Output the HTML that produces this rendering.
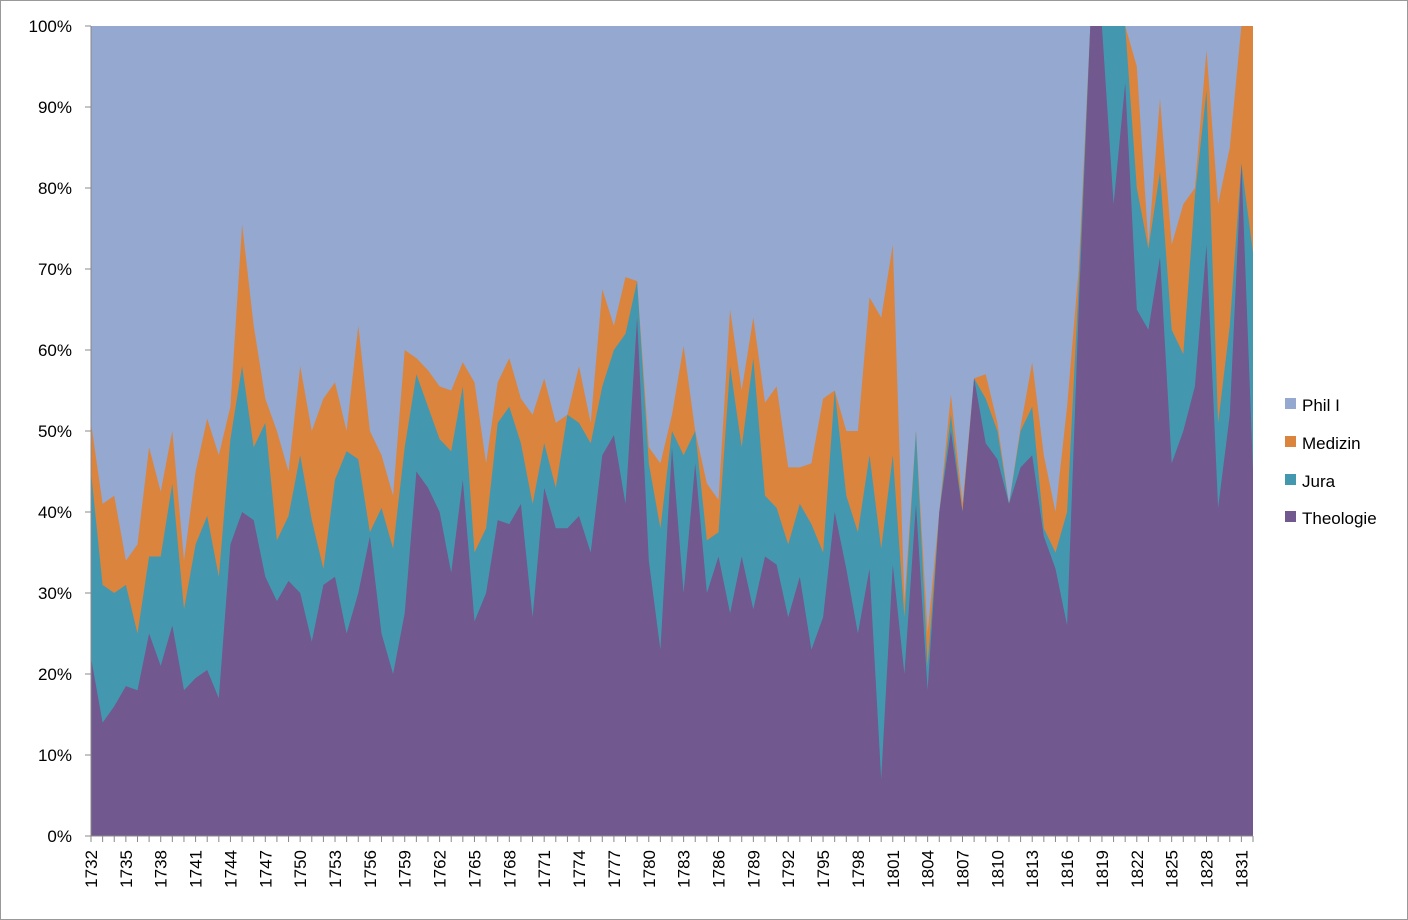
<!DOCTYPE html>
<html><head><meta charset="utf-8"><style>
html,body{margin:0;padding:0;background:#fff;}
svg{display:block;font-family:"Liberation Sans",sans-serif;}
</style></head><body>
<svg id="s" width="1408" height="920" viewBox="0 0 1408 920" xmlns="http://www.w3.org/2000/svg">
<rect x="0.5" y="0.5" width="1407" height="919" fill="#fff" stroke="#999"/>
<g id="areas"></g>
<g id="axes"></g>
<g font-size="17" fill="#000">
<rect x="1285" y="398" width="11" height="11" fill="#94a8d0"/><text x="1302" y="411">Phil I</text>
<rect x="1285" y="436" width="11" height="11" fill="#db843d"/><text x="1302" y="449">Medizin</text>
<rect x="1285" y="474" width="11" height="11" fill="#4398af"/><text x="1302" y="487">Jura</text>
<rect x="1285" y="511" width="11" height="11" fill="#71588f"/><text x="1302" y="524">Theologie</text>
</g>
</svg>
<script>
var T=[22,14,16,18.5,18,25,21,26,18,19.5,20.5,17,36,40,39,32,29,31.5,30,24,31,32,25,30,37,25,20,27.5,45,43,40,32.5,44,26.5,30,39,38.5,41,27,43,38,38,39.5,35,47,49.5,41,64,34,23,48,30,46,30,34.5,27.5,34.5,28,34.5,33.5,27,32,23,27,40,33,25,33,7,33.5,20,41,18,40,50,40,56.5,48.5,46.5,41,45.5,47,37,33,26,65,100,100,78,93,65,62.5,71.5,46,50,55.5,73,40.5,52,83,45];
var J=[45,31,30,31,25,34.5,34.5,43.5,28,36,39.5,32,49,58,48,51,36.5,39.5,47,39,33,44,47.5,46.5,37.5,40.5,35.5,48,57,53,49,47.5,55.5,35,38,51,53,48.5,41,48.5,43,52,51,48.5,55.5,60,62,68.5,46,38,50,47,50,36.5,37.5,58,48,59,42,40.5,36,41,38.5,35,55,42,37.5,47,35.5,47,27,50,21,40,52,40,56.5,54,50,41,50,53,38,35,40,68,100,100,100,100,80,72.5,82,62.5,59.5,79,92,51,63,83,72];
var M=[51,41,42,34,36,48,42.5,50,34,45,51.5,47,53,75.5,63,54,50,45,58,50,54,56,50,63,50,47,42,60,59,57.5,55.5,55,58.5,56,46,56,59,54,52,56.5,51,52,58,51,67.5,63,69,68.5,48,46,52,60.5,50,43.5,41.5,65,55,64,53.5,55.5,45.5,45.5,46,54,55,50,50,66.5,64,73,29,50,25,40,54.5,41,56.5,57,51,41,50.5,58.5,47,40,53,70,100,100,100,100,95,73,91,73,78,80,97,78,85,100,100];
var X0=91,X1=1253,Y0=836,H=810,N=T.length,dx=(X1-X0)/(N-1);
function X(i){return X0+i*dx}function Y(v){return Y0-v/100*H}
for(var i=0;i<N;i++){J[i]=Math.max(J[i],T[i]);M[i]=Math.max(M[i],J[i]);}
function area(arr,col){var d="M"+X0+","+Y0;for(var i=0;i<N;i++)d+="L"+X(i).toFixed(1)+","+Y(arr[i]).toFixed(1);d+="L"+X1+","+Y0+"Z";return '<path d="'+d+'" fill="'+col+'"/>';}
var h='<rect x="'+X0+'" y="26" width="'+(X1-X0)+'" height="810" fill="#94a8d0"/>';
h+=area(M,"#db843d")+area(J,"#4398af")+area(T,"#71588f");
document.getElementById("areas").innerHTML=h;
var a='<line x1="91" y1="26" x2="91" y2="836" stroke="#888"/><line x1="91" y1="836" x2="1253" y2="836" stroke="#888"/>';
for(var k=0;k<=10;k++){var y=Y(k*10);a+='<line x1="85" y1="'+y+'" x2="91" y2="'+y+'" stroke="#888"/>';a+='<text x="72" y="'+(y+6)+'" font-size="17" text-anchor="end">'+(k*10)+'%</text>';}
for(var i=0;i<N;i++){var x=X(i);a+='<line x1="'+x+'" y1="836" x2="'+x+'" y2="842" stroke="#888"/>';if(i%3==0&&i<100){a+='<text transform="translate('+(x+6)+',850) rotate(-90)" font-size="17" text-anchor="end">'+(1732+i)+'</text>';}}
document.getElementById("axes").innerHTML=a;
</script>
</body></html>
